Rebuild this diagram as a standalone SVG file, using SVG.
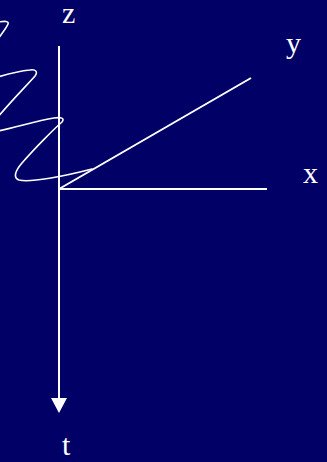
<svg xmlns="http://www.w3.org/2000/svg" width="327" height="462" viewBox="0 0 327 462">
<style>
.ax{stroke:#fff;stroke-width:2;fill:none}
.wave{stroke:#fff;stroke-width:1.6;fill:none;stroke-linecap:round}
.lbl{font-family:"Liberation Serif","Times New Roman",serif;font-size:30px;fill:#fff}
</style>
<rect width="327" height="462" fill="#000066"/>
<g id="connectors">
<line class="ax" x1="59" y1="46" x2="59" y2="400"/>
<polygon points="51,398 67,398 59,413" fill="#fff"/>
<line class="ax" x1="59" y1="189" x2="267" y2="189"/>
<line class="ax" x1="59" y1="189" x2="251" y2="78"/>
</g>
<g id="wave">
<path class="wave" d="M92,169 C65,176 30,183 19,180 C13,178 15,171 22,163 C35,148 55,128 62,122 C65,118 61,117 54,118 C35,121 15,128 -2,131"/>
<path class="wave" d="M-2,117 C12,100 30,82 35,76 C38,72 36,69 30,70 C20,71 8,74 -2,77"/>
<path class="wave" d="M-2,39 C3,32 7,27 8,24 C9,21 5,21 -2,22"/>
</g>
<g id="label-z"><text class="lbl" x="62" y="23">z</text></g>
<g id="label-y"><text class="lbl" x="286" y="53">y</text></g>
<g id="label-x"><text class="lbl" x="303" y="183">x</text></g>
<g id="label-t"><text class="lbl" x="62" y="455">t</text></g>
</svg>
